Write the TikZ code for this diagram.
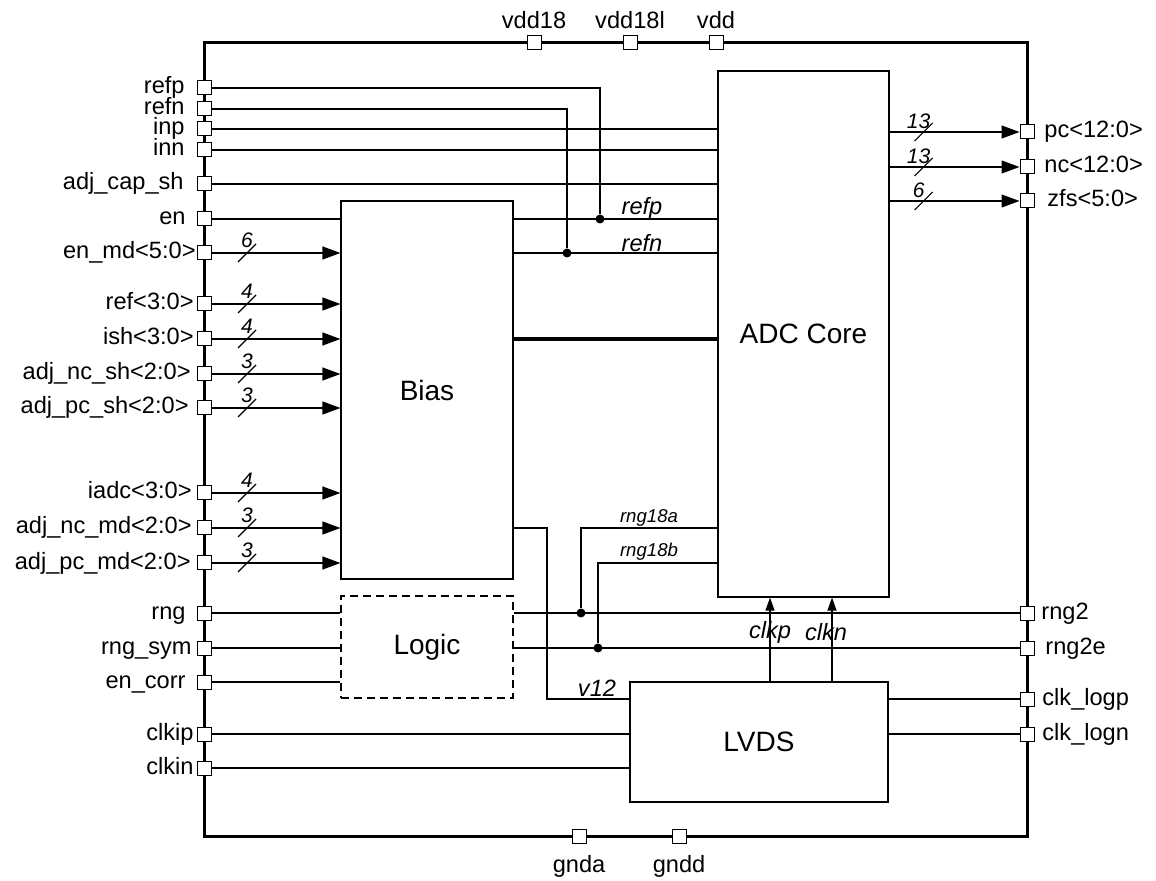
\documentclass[tikz,border=0pt]{standalone}
\usepackage{fontspec}
\setmainfont{Liberation Sans}
\usetikzlibrary{arrows.meta,positioning,calc}

\newcommand{\pinfont}{\fontsize{11.8}{14}\selectfont}
\newcommand{\blkfont}{\fontsize{14}{16}\selectfont}
\newcommand{\sigfont}{\fontsize{11.8}{14}\selectfont\itshape}
\newcommand{\busfont}{\fontsize{10.5}{12}\selectfont\itshape}
\newcommand{\tinysig}{\fontsize{9.3}{11}\selectfont\itshape}

\tikzset{
  pad/.style={draw,fill=white,minimum size=7pt,inner sep=0pt,line width=0.5pt},
  blk/.style={draw,line width=0.6pt,font=\blkfont},
  wire/.style={line width=0.6pt},
  bus/.style={wire,-{Triangle[length=9pt,width=6.5pt]}},
  clkarrow/.style={wire,-{Triangle[length=6.5pt,width=4.5pt]}},
  dot/.style={circle,fill,inner sep=0pt,minimum size=4.5pt},
  plabel/.style={font=\pinfont,inner sep=0pt},
}

\begin{document}
\begin{tikzpicture}[x=0.5pt,y=-0.5pt]
  \useasboundingbox (0,0) rectangle (1156,881);
  % chip outline
  \draw[line width=1.5pt] (204,43) rectangle (1027,836);

  % blocks
  \node[blk,minimum width=86pt,minimum height=189pt] (bias) at (427,390) {Bias};
  \node[blk,minimum width=85.5pt,minimum height=263pt] (adc) at (803.5,334) {ADC Core};
  \node[blk,dash pattern=on 4pt off 2.5pt,minimum width=86pt,minimum height=51pt] (logic) at (427,647) {Logic};
  \node[blk,minimum width=129pt,minimum height=60pt] (lvds) at (759,742) {LVDS};

  % left pads
  \foreach \y/\nm/\txt/\lx in {88/prefp/refp/185, 109/prefn/refn/185, 129/pinp/inp/185,
      150/pinn/inn/185, 184/padjcap/adj\_cap\_sh/184, 219/pen/en/186,
      253/penmd/en\_md<5:0>/196, 304/pref/ref<3:0>/194, 339/pish/ish<3:0>/194,
      374/pncsh/adj\_nc\_sh<2:0>/191, 408/ppcsh/adj\_pc\_sh<2:0>/189,
      493/piadc/iadc<3:0>/192, 528/pncmd/adj\_nc\_md<2:0>/192,
      563/ppcmd/adj\_pc\_md<2:0>/191, 613/prng/rng/186, 648/prngsym/rng\_sym/192,
      682/pencorr/en\_corr/186, 734/pclkip/clkip/194, 768/pclkin/clkin/194}{
    \node[pad] (\nm) at (204,\y) {};
    \node[plabel,anchor=base east] (\nm-l) at (\lx,\y+6) {\txt};
  }
  % right pads
  \foreach \y/\nm/\txt/\lx in {132/ppc/pc<12:0>/1044, 167/pnc/nc<12:0>/1044,
      201/pzfs/zfs<5:0>/1047, 613/prng2/rng2/1041, 648/prng2e/rng2e/1045,
      699/pclklogp/clk\_logp/1042, 734/pclklogn/clk\_logn/1042}{
    \node[pad] (\nm) at (1027,\y) {};
    \node[plabel,anchor=base west] (\nm-l) at (\lx,\y+6) {\txt};
  }
  % supply pads
  \foreach \x/\nm/\txt in {534/pvddh/vdd18, 630/pvddl/vdd18l, 716/pvdd/vdd}{
    \node[pad] (\nm) at (\x,43) {};
    \node[plabel,anchor=base] (\nm-l) at (\x,29) {\txt};
  }
  \foreach \x/\nm/\txt in {579/pgnda/gnda, 679/pgndd/gndd}{
    \node[pad] (\nm) at (\x,836) {};
    \node[plabel,anchor=base] (\nm-l) at (\x,872) {\txt};
  }

  % ADC analog inputs
  \foreach \p in {pinp,pinn,padjcap}
    \draw[wire] (\p.east) -- (\p.east -| adc.west);

  % references
  \node[dot] (tapp) at (600,219) {};
  \node[dot] (tapn) at (567,253) {};
  \draw[wire] (prefp.east) -| (tapp);
  \draw[wire] (prefn.east) -| (tapn);
  \draw[wire] (pen.east) -- (pen.east -| bias.west);
  \draw[wire] (bias.east |- tapp) -- (adc.west |- tapp);
  \draw[wire] (bias.east |- tapn) -- (adc.west |- tapn);
  \node[font=\sigfont] (lrefp) at (642,208) {refp};
  \node[font=\sigfont] (lrefn) at (642,243) {refn};
  \draw[line width=1.7pt] (bias.east |- pish) -- (adc.west |- pish);

  % bias control buses
  \foreach \p/\w in {penmd/6,pref/4,pish/4,pncsh/3,ppcsh/3,piadc/4,pncmd/3,ppcmd/3}{
    \draw[bus] (\p.east) -- (\p.east -| bias.west);
    \draw[wire] (\p) ++(34,9) -- ++(18,-18);
    \node[font=\busfont] (\p-w) at ($(\p)+(43,-13)$) {\w};
  }

  % ADC outputs
  \foreach \p/\w in {ppc/13,pnc/13,pzfs/6}{
    \draw[bus] (\p.west -| adc.east) -- (\p.west);
    \draw[wire] (\p -| adc.east) ++(25,9) -- ++(18,-18);
    \node[font=\busfont] (\p-w) at ($(\p -| adc.east)+(29,-11)$) {\w};
  }

  % v12 supply to LVDS
  \coordinate (v12a) at (547,528);
  \coordinate (v12b) at (547,699);
  \draw[wire] (bias.east |- v12a) -- (v12a) -- (v12b) -- (v12b -| lvds.west);
  \node[font=\sigfont] (lv12) at (597,688) {v12};

  % range signals
  \draw[wire] (prng.east) -- (prng -| logic.west);
  \draw[wire] (logic.east |- prng) -- (prng2.west);
  \draw[wire] (prngsym.east) -- (prngsym -| logic.west);
  \draw[wire] (logic.east |- prngsym) -- (prng2e.west);
  \draw[wire] (pencorr.east) -- (pencorr -| logic.west);
  \node[dot] (tapa) at (581,613) {};
  \node[dot] (tapb) at (598,648) {};
  \draw[wire] (adc.west |- v12a) -| (tapa);
  \draw[wire] (adc.west |- ppcmd) -| (tapb);
  \node[font=\tinysig] (lrnga) at (649,518) {rng18a};
  \node[font=\tinysig] (lrngb) at (649,552) {rng18b};

  % clocks
  \draw[wire] (pclkip.east) -- (pclkip -| lvds.west);
  \draw[wire] (pclkin.east) -- (pclkin -| lvds.west);
  \draw[wire] (lvds.east |- pclklogp) -- (pclklogp.west);
  \draw[wire] (lvds.east |- pclklogn) -- (pclklogn.west);
  \coordinate (ckp) at (770,682);
  \coordinate (ckn) at (832,682);
  \draw[clkarrow] (lvds.north -| ckp) -- (adc.south -| ckp);
  \draw[clkarrow] (lvds.north -| ckn) -- (adc.south -| ckn);
  \node[font=\sigfont] (lclkp) at (770,632) {clkp};
  \node[font=\sigfont] (lclkn) at (826,632) {clkn};
\end{tikzpicture}
\end{document}
